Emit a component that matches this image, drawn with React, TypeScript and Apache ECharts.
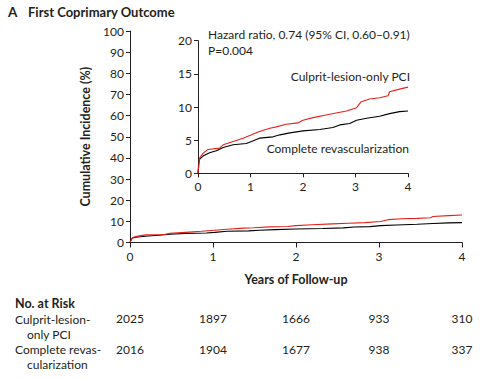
import React, { useEffect, useRef } from "react";
import * as echarts from "echarts";

const culpritYears = [0, 0.02, 0.03, 0.095, 0.19, 0.41, 0.48, 0.67, 0.86, 1.02, 1.17, 1.37, 1.49, 1.68, 1.9, 2.0, 2.19, 2.44, 2.63, 2.83, 3.02, 3.11, 3.27, 3.46, 3.62, 3.65, 3.84, 4.0];
const culpritPct = [0, 1.5, 2.3, 3.0, 3.6, 3.8, 4.3, 4.8, 5.3, 5.8, 6.3, 6.8, 7.0, 7.4, 7.6, 8.0, 8.4, 8.8, 9.1, 9.4, 9.9, 10.8, 11.2, 11.4, 11.7, 12.3, 12.7, 13.0];
const completeYears = [0, 0.013, 0.03, 0.095, 0.22, 0.35, 0.48, 0.67, 0.92, 1.02, 1.17, 1.43, 1.56, 1.75, 2.0, 2.32, 2.57, 2.7, 2.89, 3.02, 3.21, 3.46, 3.65, 3.84, 4.0];
const completePct = [0, 1.5, 2.1, 2.6, 3.1, 3.4, 3.9, 4.3, 4.5, 4.8, 5.3, 5.5, 5.8, 6.1, 6.4, 6.6, 6.9, 7.3, 7.5, 8.0, 8.3, 8.6, 9.0, 9.3, 9.4];

const riskYears = [0, 1, 2, 3, 4];
const riskCulprit = [2025, 1897, 1666, 933, 310];
const riskComplete = [2016, 1904, 1677, 938, 337];

const FONT = "Lato";
const INK = "#231f20";
const RED = "#e3211c";

export default function App() {
  const ref = useRef<HTMLDivElement>(null);
  useEffect(() => {
    const chart = echarts.init(ref.current!, null, { renderer: "svg" });
    const culprit = culpritYears.map((x, i) => [x, culpritPct[i]]);
    const complete = completeYears.map((x, i) => [x, completePct[i]]);
    const axisCommon = {
      axisLine: { show: true, onZero: false, lineStyle: { color: INK, width: 1 } },
      axisTick: { show: true, inside: false, length: 4, lineStyle: { color: INK, width: 1 } },
      splitLine: { show: false },
      axisLabel: { color: INK, fontFamily: FONT, fontSize: 12, margin: 6 },
    };
    chart.setOption({
      animation: false,
      grid: [
        { left: 130, right: 24, top: 31, bottom: 135.5 },
        { left: 198, width: 210, top: 40.7, height: 132.6 },
      ],
      xAxis: [
        {
          ...axisCommon,
          gridIndex: 0,
          type: "value",
          min: 0,
          max: 4,
          interval: 1,
          name: "Years of Follow-up",
          nameLocation: "middle",
          nameGap: 30,
          nameTextStyle: { color: INK, fontFamily: FONT, fontSize: 12.5, fontWeight: "bold" },
          axisTick: { ...axisCommon.axisTick, length: 5 },
          axisLabel: { ...axisCommon.axisLabel, margin: 8 },
        },
        {
          ...axisCommon,
          gridIndex: 1,
          type: "value",
          min: 0,
          max: 4,
          interval: 1,
          axisTick: { ...axisCommon.axisTick, length: 4 },
          axisLabel: { ...axisCommon.axisLabel, margin: 7 },
        },
      ],
      yAxis: [
        {
          ...axisCommon,
          gridIndex: 0,
          type: "value",
          min: 0,
          max: 100,
          interval: 10,
          name: "Cumulative Incidence (%)",
          nameLocation: "middle",
          nameGap: 36,
          nameTextStyle: { color: INK, fontFamily: FONT, fontSize: 12.5, fontWeight: "bold" },
        },
        {
          ...axisCommon,
          gridIndex: 1,
          type: "value",
          min: 0,
          max: 20,
          interval: 5,
        },
      ],
      series: [
        { type: "line", xAxisIndex: 0, yAxisIndex: 0, data: culprit, showSymbol: false, symbol: "none", lineStyle: { color: RED, width: 1.1 }, z: 3 },
        { type: "line", xAxisIndex: 0, yAxisIndex: 0, data: complete, showSymbol: false, symbol: "none", lineStyle: { color: "#000", width: 1.1 }, z: 2 },
        { type: "line", xAxisIndex: 1, yAxisIndex: 1, data: culprit, showSymbol: false, symbol: "none", lineStyle: { color: RED, width: 1.1 }, z: 3 },
        { type: "line", xAxisIndex: 1, yAxisIndex: 1, data: complete, showSymbol: false, symbol: "none", lineStyle: { color: "#000", width: 1.1 }, z: 2 },
      ],
    });

    const txt = (x: number, y: number, text: string, extra: any = {}) => ({
      type: "text",
      x,
      y,
      style: { text, fill: INK, font: `12px ${FONT}`, textVerticalAlign: "middle", ...extra },
    });
    const risk: any[] = [];
    riskYears.forEach((yr, i) => {
      const px = chart.convertToPixel({ xAxisIndex: 0 }, yr) as number;
      risk.push(txt(px, 318, String(riskCulprit[i]), { textAlign: "center" }));
      risk.push(txt(px, 349, String(riskComplete[i]), { textAlign: "center" }));
    });
    chart.setOption({
      graphic: [
        txt(8, 12, "A", { font: `bold 13.5px ${FONT}` }),
        txt(28, 12, "First Coprimary Outcome", { font: `bold 13px ${FONT}` }),
        txt(208, 34, "Hazard ratio, 0.74 (95% CI, 0.60\u20130.91)"),
        txt(208, 50, "P=0.004"),
        txt(410, 76, "Culprit-lesion-only PCI", { textAlign: "right" }),
        txt(409, 148, "Complete revascularization", { textAlign: "right" }),
        txt(15, 303, "No. at Risk", { font: `bold 12.5px ${FONT}` }),
        txt(15, 319, "Culprit-lesion-"),
        txt(27, 334, "only PCI"),
        txt(15, 349, "Complete revas-"),
        txt(27, 364, "cularization"),
        ...risk,
      ],
    });
    return () => chart.dispose();
  }, []);
  return <div ref={ref} style={{ width: 486, height: 378, position: "absolute", left: 0, top: 0 }} />;
}
